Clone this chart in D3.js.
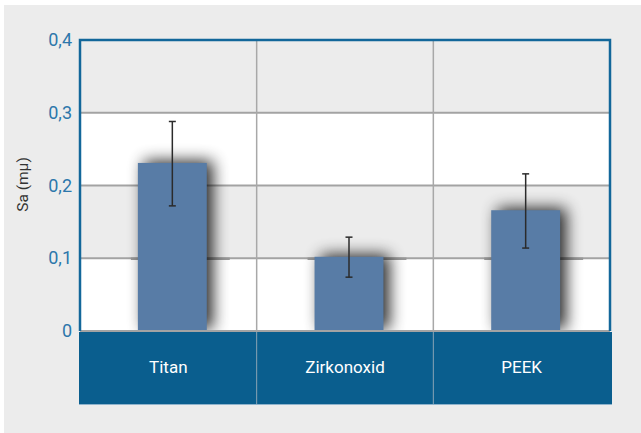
<!DOCTYPE html>
<html lang="de">
<head>
	<meta charset="UTF-8">
	<script src="https://cdn.jsdelivr.net/npm/d3@7"></script>
	<title>Sa (mμ)</title>
	<style>
		body { margin: 0; background: #fff; }
		svg { display: block; }
		text { font-family: "Roboto", sans-serif; }
	</style>
</head>
<body>
	<svg width="641" height="433"></svg>

	<script>
		const categories = ['Titan', 'Zirkonoxid', 'PEEK'];
		const values = [0.231, 0.102, 0.166];
		const errLow = [0.172, 0.074, 0.114];
		const errHigh = [0.288, 0.129, 0.216];
		const yTicks = [0, 0.1, 0.2, 0.3, 0.4];
		const yTickLabels = ['0', '0,1', '0,2', '0,3', '0,4'];

		const width = 641, height = 433;
		const margin = { top: 40, right: 31, bottom: 102, left: 80 };
		const x0 = margin.left, x1 = width - margin.right;
		const yTop = margin.top, yBase = height - margin.bottom;

		const svg = d3.select('svg');

		// soft shadow behind bars
		const defs = svg.append('defs');
		const f = defs.append('filter').attr('id', 'shadow')
			.attr('x', '-80%').attr('y', '-80%').attr('width', '260%').attr('height', '260%');
		f.append('feGaussianBlur').attr('in', 'SourceAlpha').attr('stdDeviation', 8);
		f.append('feOffset').attr('dx', 6).attr('dy', -2);
		f.append('feComponentTransfer').append('feFuncA').attr('type', 'linear').attr('slope', 0.85);

		svg.append('rect').attr('x', 4).attr('y', 5).attr('width', width - 4).attr('height', height - 5)
			.attr('fill', '#ececec');

		const x = d3.scaleBand().domain(categories).range([x0, x1]);
		const y = d3.scaleLinear().domain([0, 0.4]).range([yBase, yTop]);

		// alternating bands
		svg.append('g').selectAll('rect')
			.data(yTicks.slice(0, -1))
			.enter().append('rect')
			.attr('x', x0).attr('width', x1 - x0)
			.attr('y', d => y(d + 0.1)).attr('height', d => y(d) - y(d + 0.1))
			.attr('fill', (d, i) => i % 2 === 0 ? '#ffffff' : '#ececec');

		// gridlines
		svg.append('g').selectAll('line')
			.data(yTicks.slice(1, -1))
			.enter().append('line')
			.attr('x1', x0).attr('x2', x1)
			.attr('y1', d => y(d)).attr('y2', d => y(d))
			.attr('stroke', '#a3a3a3').attr('stroke-width', 2);

		// vertical separators
		svg.append('g').selectAll('line')
			.data(categories.slice(1))
			.enter().append('line')
			.attr('x1', d => x(d)).attr('x2', d => x(d))
			.attr('y1', yTop).attr('y2', yBase)
			.attr('stroke', '#a8a8a8').attr('stroke-width', 1.5);

		const barW = x.bandwidth() * 0.39;
		const barX = d => x(d) + (x.bandwidth() - barW) / 2 + 4;

		// floor marks at 0,1
		svg.append('g').selectAll('line')
			.data(categories)
			.enter().append('line')
			.attr('x1', d => barX(d) - 7).attr('x2', d => barX(d) + barW + 23)
			.attr('y1', y(0.1) + 0.5).attr('y2', y(0.1) + 0.5)
			.attr('stroke', '#999').attr('stroke-width', 2.5);

		// bars
		const bars = svg.append('g');
		bars.selectAll('rect.sh')
			.data(values)
			.enter().append('rect').attr('class', 'sh')
			.attr('x', (d, i) => barX(categories[i]))
			.attr('y', d => y(d))
			.attr('width', barW)
			.attr('height', d => yBase - y(d))
			.attr('fill', '#000')
			.attr('filter', 'url(#shadow)');
		bars.selectAll('rect.bar')
			.data(values)
			.enter().append('rect').attr('class', 'bar')
			.attr('x', (d, i) => barX(categories[i]))
			.attr('y', d => y(d))
			.attr('width', barW)
			.attr('height', d => yBase - y(d))
			.attr('fill', '#587ca6');

		// error bars
		const eb = svg.append('g').attr('stroke', '#2b2b2b').attr('stroke-width', 1.5);
		categories.forEach((c, i) => {
			const cx = barX(c) + barW / 2;
			eb.append('line').attr('x1', cx).attr('x2', cx).attr('y1', y(errHigh[i])).attr('y2', y(errLow[i]));
			eb.append('line').attr('x1', cx - 3.5).attr('x2', cx + 3.5).attr('y1', y(errHigh[i])).attr('y2', y(errHigh[i]));
			eb.append('line').attr('x1', cx - 3.5).attr('x2', cx + 3.5).attr('y1', y(errLow[i])).attr('y2', y(errLow[i]));
		});

		// baseline
		svg.append('line').attr('x1', x0).attr('x2', x1).attr('y1', yBase).attr('y2', yBase)
			.attr('stroke', '#a3a3a3').attr('stroke-width', 2);

		// category band
		svg.append('rect').attr('x', x0 - 1).attr('y', yBase + 1).attr('width', x1 - x0 + 3).attr('height', 72)
			.attr('fill', '#0a5e8e');
		svg.append('g').selectAll('line')
			.data(categories.slice(1))
			.enter().append('line')
			.attr('x1', d => x(d)).attr('x2', d => x(d))
			.attr('y1', yBase + 1).attr('y2', yBase + 73)
			.attr('stroke', '#8aa3b5').attr('stroke-width', 1);
		svg.append('line').attr('x1', x0 - 1).attr('x2', x1 + 2).attr('y1', yBase + 73.5).attr('y2', yBase + 73.5)
			.attr('stroke', '#8fb3cc').attr('stroke-width', 1);

		svg.append('g').selectAll('text')
			.data(categories)
			.enter().append('text')
			.attr('x', d => x(d) + x.bandwidth() / 2)
			.attr('y', yBase + 42)
			.attr('text-anchor', 'middle')
			.attr('fill', '#fff')
			.style('font-size', '17px')
			.text(d => d);

		// frame (left, top, right)
		svg.append('path')
			.attr('d', `M${x0},${yBase}V${yTop}H${x1}V${yBase}`)
			.attr('fill', 'none').attr('stroke', '#13679a').attr('stroke-width', 2.5);

		// y tick labels
		svg.append('g').selectAll('text')
			.data(yTicks)
			.enter().append('text')
			.attr('x', 72)
			.attr('y', d => y(d) + 6)
			.attr('text-anchor', 'end')
			.attr('fill', '#2c77ab')
			.style('font-size', '18px')
			.text((d, i) => yTickLabels[i]);

		svg.append('text')
			.attr('transform', `translate(28,${(yTop + yBase) / 2 - 1}) rotate(-90)`)
			.attr('text-anchor', 'middle')
			.attr('fill', '#333')
			.style('font-size', '15.5px')
			.text('Sa (mμ)');
	</script>
</body>
</html>
